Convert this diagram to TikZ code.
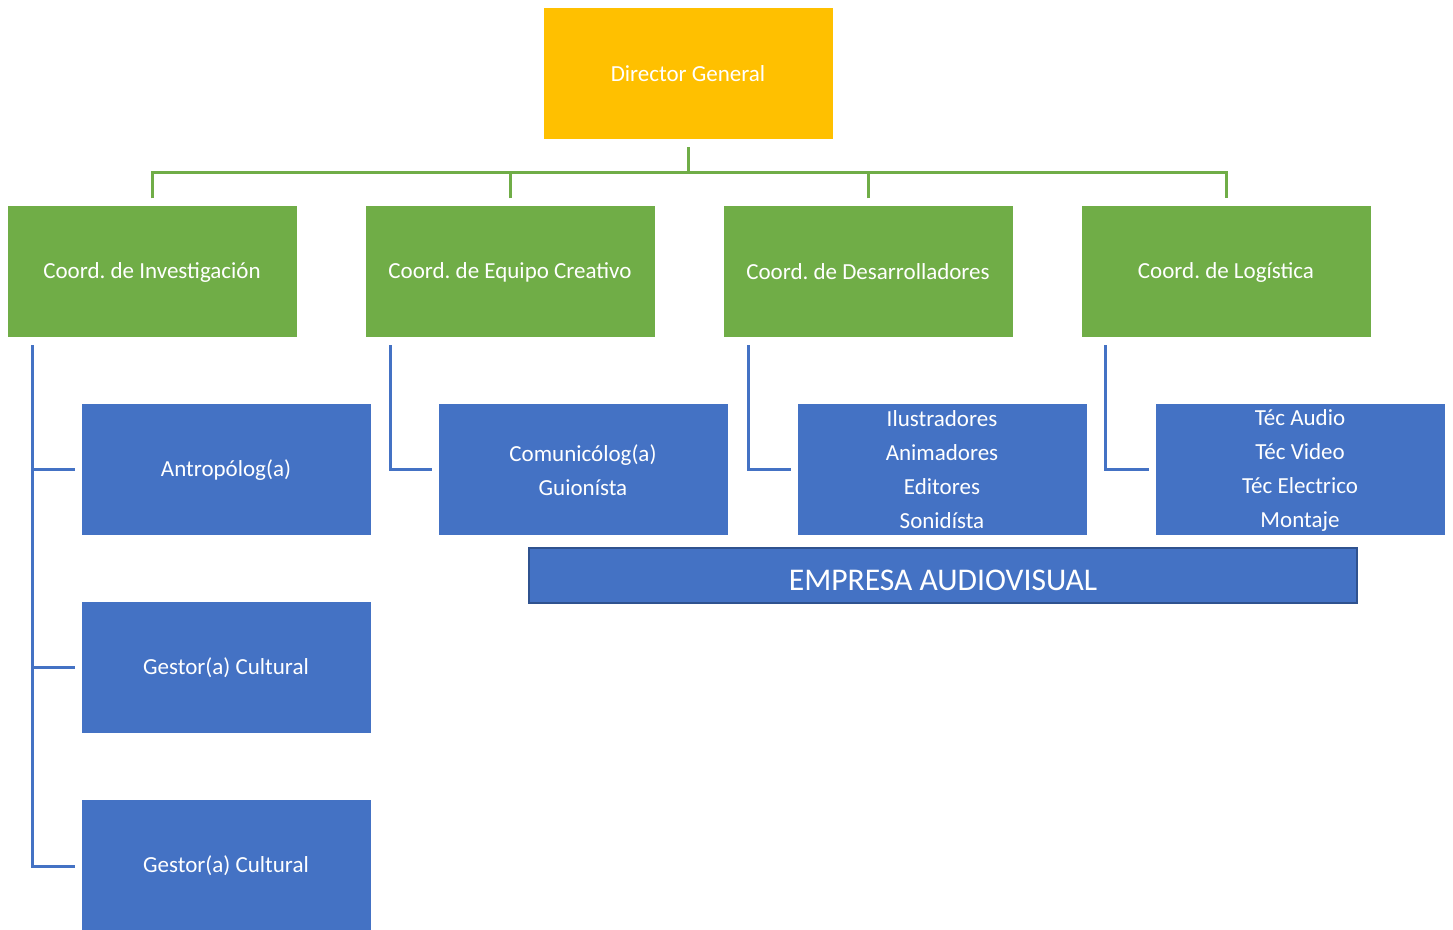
\documentclass[tikz,border=0pt]{standalone}
\usepackage{fontspec}
\setmainfont{Carlito}
\definecolor{dirc}{HTML}{FFC000}
\definecolor{grc}{HTML}{70AD47}
\definecolor{blc}{HTML}{4472C4}
\definecolor{bdc}{HTML}{2F528F}
\begin{document}
\frenchspacing
\begin{tikzpicture}[x=0.5pt,y=-0.5pt,
  basebox/.style={rectangle, inner sep=0pt, text=white, align=center,
    minimum width=145pt, minimum height=66pt, draw=white, line width=0.5pt,
    font=\fontsize{11.5}{17}\selectfont},
  dirbox/.style={basebox, fill=dirc},
  grbox/.style={basebox, fill=grc},
  blbox/.style={basebox, fill=blc},
  empbox/.style={basebox, fill=blc, draw=bdc, line width=1.3pt, minimum width=414pt, minimum height=27.5pt, text height=14.7pt, text depth=0pt, font=\fontsize{15.8}{18}\selectfont},
  gline/.style={draw=grc, line width=1.5pt},
  bline/.style={draw=blc, line width=1.5pt}]
\useasboundingbox (0,0) rectangle (1453,930);
\node[dirbox] (dir) at (688,74) {Director General};
\node[grbox] (c1) at (152,272) {Coord. de Investigación};
\node[grbox] (c2) at (510,272) {Coord. de Equipo Creativo};
\node[grbox] (c3) at (868,272) {Coord. de Desarrolladores};
\node[grbox] (c4) at (1226,272) {Coord. de Logística};
\node[blbox] (b1) at (226,470) {Antropólog(a)};
\node[blbox] (b2) at (583,470) {Comunicólog(a)\\Guionísta};
\node[blbox] (b3) at (942,470) {Ilustradores\\Animadores\\Editores\\Sonidísta};
\node[blbox] (b4) at (1300,470) {Téc Audio\\Téc Video\\Téc Electrico\\Montaje};
\node[blbox] (g1) at (226,668) {Gestor(a) Cultural};
\node[blbox] (g2) at (226,866) {Gestor(a) Cultural};
\node[empbox] (emp) at (943,575.5) {EMPRESA AUDIOVISUAL};
% green bus
\coordinate (bus) at (0,173);
\draw[gline] ([yshift=-3.5pt]dir.south) -- (dir.south |- bus);
\draw[gline] ([yshift=3.5pt]c1.north) -- (c1.north |- bus) -- (c4.north |- bus) -- ([yshift=3.5pt]c4.north);
\draw[gline] ([yshift=3.5pt]c2.north) -- (c2.north |- bus);
\draw[gline] ([yshift=3.5pt]c3.north) -- (c3.north |- bus);
% blue connectors
\coordinate (t1) at ([xshift=13pt,yshift=-3.5pt]c1.south west);
\coordinate (t2) at ([xshift=13pt,yshift=-3.5pt]c2.south west);
\coordinate (t3) at ([xshift=13pt,yshift=-3.5pt]c3.south west);
\coordinate (t4) at ([xshift=12.5pt,yshift=-3.5pt]c4.south west);
\draw[bline] (t1) |- ([xshift=-3pt]g2.west);
\draw[bline] (t1 |- b1.west) -- ([xshift=-3pt]b1.west);
\draw[bline] (t1 |- g1.west) -- ([xshift=-3pt]g1.west);
\draw[bline] (t2) |- ([xshift=-3pt]b2.west);
\draw[bline] (t3) |- ([xshift=-3pt]b3.west);
\draw[bline] (t4) |- ([xshift=-3pt]b4.west);
\end{tikzpicture}
\end{document}
